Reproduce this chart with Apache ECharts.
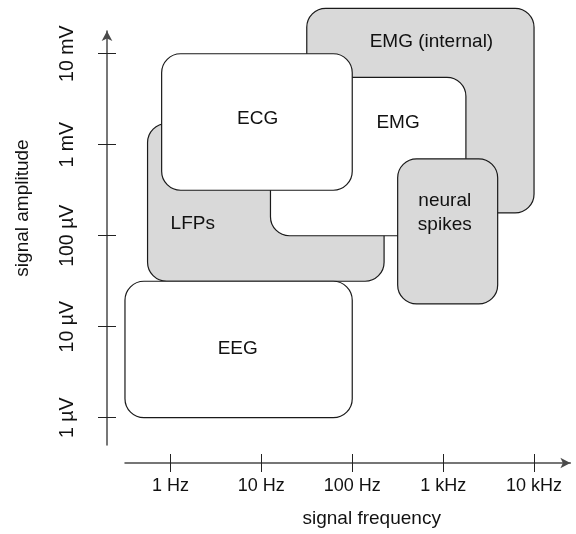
<!DOCTYPE html>
<html>
<head>
<meta charset="utf-8">
<script src="https://cdn.jsdelivr.net/npm/echarts@6/dist/echarts.min.js"></script>
<style>
  html, body { margin: 0; padding: 0; background: #fff; }
  #chart { width: 576px; height: 534px; }
</style>
</head>
<body>
<div id="chart"></div>
<script>
// Signal classes: frequency band (Hz) and amplitude band (µV), drawn bottom to top
const names     = ['EMG (internal)', 'LFPs', 'EMG', 'ECG', 'neural\nspikes', 'EEG'];
const freqLow   = [31.6, 0.56, 12.6, 0.8, 316, 0.316];
const freqHigh  = [10000, 224, 1780, 100, 3980, 100];
const ampLow    = [178, 31.6, 100, 316, 17.8, 1];
const ampHigh   = [31600, 1710, 5500, 10000, 700, 31.6];
const shaded    = [true, true, false, false, true, false];
// Where each class name sits (Hz, µV)
const labelFreq = [743, 1.76, 319, 9.1, 1042, 5.5];
const labelAmp  = [13400, 135, 1745, 1945, 180, 5.7];

// Decade ticks
const freqTicks  = [1, 10, 100, 1000, 10000];
const freqLabels = ['1 Hz', '10 Hz', '100 Hz', '1 kHz', '10 kHz'];
const ampTicks   = [1, 10, 100, 1000, 10000];
const ampLabels  = ['1 µV', '10 µV', '100 µV', '1 mV', '10 mV'];

const FONT = "'Liberation Sans', Arial, sans-serif";
const TEXT = '#111';
const AXIS = '#4a4a4a';

const lg = Math.log10;
const xTickPos = freqTicks.map(lg);
const yTickPos = ampTicks.map(lg);
const xLabelOf = v => freqLabels[xTickPos.findIndex(t => Math.abs(t - v) < 1e-6)] || '';
const yLabelOf = v => ampLabels[yTickPos.findIndex(t => Math.abs(t - v) < 1e-6)] || '';

const boxes = names.map((n, i) => [
  lg(freqLow[i]), lg(freqHigh[i]), lg(ampLow[i]), lg(ampHigh[i]),
  lg(labelFreq[i]), lg(labelAmp[i]), i
]);

const X_MIN = -0.5, X_MAX = 4.4, Y_MIN = -0.3, Y_MAX = 4.25;

const chart = echarts.init(document.getElementById('chart'), null, { renderer: 'canvas' });

const baseX = {
  type: 'value', min: X_MIN, max: X_MAX, position: 'bottom', offset: 18,
  splitLine: { show: false }
};
const baseY = {
  type: 'value', min: Y_MIN, max: Y_MAX, position: 'left', offset: 18,
  splitLine: { show: false }
};

chart.setOption({
  animation: false,
  backgroundColor: '#fff',
  grid: { left: 125, right: 5.6, top: 31, bottom: 89, containLabel: false },
  xAxis: [
    Object.assign({}, baseX, {
      name: 'signal frequency',
      nameLocation: 'middle',
      nameGap: 46,
      nameTextStyle: { fontFamily: FONT, fontSize: 19, color: TEXT, padding: [0, 0, 0, 48] },
      axisLine: { show: true, onZero: false, symbol: ['none', 'arrow'], symbolSize: [8, 10],
                  lineStyle: { color: AXIS, width: 1.5 } },
      axisTick: { show: true, inside: false, length: 9, customValues: xTickPos,
                  lineStyle: { color: '#222', width: 1 } },
      axisLabel: { show: true, customValues: xTickPos, margin: 14, formatter: xLabelOf,
                   fontFamily: FONT, fontSize: 18, color: TEXT }
    }),
    Object.assign({}, baseX, {
      axisLine: { show: false, onZero: false },
      axisTick: { show: true, inside: true, length: 9, customValues: xTickPos,
                  lineStyle: { color: '#222', width: 1 } },
      axisLabel: { show: false }
    })
  ],
  yAxis: [
    Object.assign({}, baseY, {
      name: 'signal amplitude',
      nameLocation: 'middle',
      nameGap: 75,
      nameRotate: 90,
      nameTextStyle: { fontFamily: FONT, fontSize: 19, color: TEXT, padding: [0, 0, 0, 60] },
      axisLine: { show: true, onZero: false, symbol: ['none', 'arrow'], symbolSize: [8, 10],
                  lineStyle: { color: AXIS, width: 1.5 } },
      axisTick: { show: true, inside: false, length: 9, customValues: yTickPos,
                  lineStyle: { color: '#222', width: 1 } },
      axisLabel: { show: true, customValues: yTickPos, margin: 29, rotate: 90, formatter: yLabelOf,
                   fontFamily: FONT, fontSize: 19.5, color: TEXT }
    }),
    Object.assign({}, baseY, {
      axisLine: { show: false, onZero: false },
      axisTick: { show: true, inside: true, length: 9, customValues: yTickPos,
                  lineStyle: { color: '#222', width: 1 } },
      axisLabel: { show: false }
    })
  ],
  series: [{
    type: 'custom',
    xAxisIndex: 0,
    yAxisIndex: 0,
    clip: false,
    data: boxes,
    renderItem: function (params, api) {
      const p0 = api.coord([api.value(0), api.value(3)]);
      const p1 = api.coord([api.value(1), api.value(2)]);
      const pl = api.coord([api.value(4), api.value(5)]);
      const i = api.value(6);
      return {
        type: 'group',
        children: [{
          type: 'rect',
          shape: { x: p0[0], y: p0[1], width: p1[0] - p0[0], height: p1[1] - p0[1], r: 19 },
          style: { fill: shaded[i] ? '#d9d9d9' : '#ffffff', stroke: '#1a1a1a', lineWidth: 1.2 }
        }, {
          type: 'text',
          style: {
            text: names[i], x: pl[0], y: pl[1], align: 'center', verticalAlign: 'middle',
            fontFamily: FONT, fontSize: 19, fill: TEXT, lineHeight: 24
          }
        }]
      };
    }
  }]
});
</script>
</body>
</html>
